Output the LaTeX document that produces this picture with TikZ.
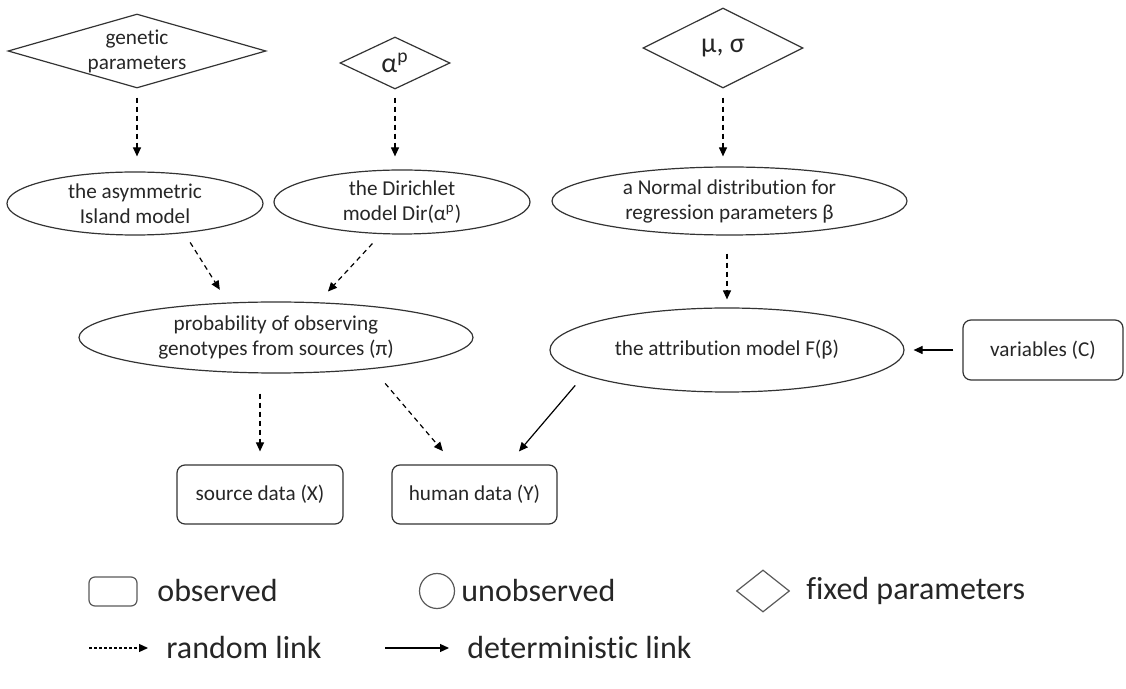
\documentclass[tikz,border=0pt]{standalone}
\usepackage{fontspec}
\setmainfont{Carlito}[Ligatures=NoCommon]
\usetikzlibrary{arrows.meta}
\usetikzlibrary{shapes.geometric}

\begin{document}
\begin{tikzpicture}[
      x=0.5pt, y=-0.5pt,
      every node/.style={text=black!85, align=center, font=\fontsize{10.6}{12.5}\selectfont},
      fixed/.style={diamond, draw=black!80, line width=0.6pt, inner sep=0pt},
      hidden/.style={ellipse, draw=black!80, line width=0.6pt, inner sep=0pt},
      obs/.style={rectangle, rounded corners=4pt, draw=black!80, line width=0.6pt, inner sep=0pt},
      big/.style={font=\fontsize{14}{16}\selectfont},
      rand/.style={line width=0.6pt, ->, >={Triangle[length=4.5pt,width=4pt]}, dash pattern=on 2.5pt off 2pt},
      det/.style={line width=0.6pt, ->, >={Triangle[length=4.5pt,width=4pt]}},
      legend/.style={anchor=west, inner sep=0pt, font=\fontsize{16}{19}\selectfont},
    ]
    \useasboundingbox (0,0) rectangle (1126,689);
    % Draw the fixed parameters.
    \node[fixed, shape aspect=3.5, minimum width=129pt, minimum height=37pt] (gen) at (137,51) {genetic\\parameters};
    \node[fixed, big, shape aspect=2.1, minimum width=55pt, minimum height=26pt] (alpha) at (395,63) {α\textsuperscript{p}};
    \node[fixed, big, shape aspect=2, minimum width=80pt, minimum height=40pt] (musig) at (723,48) {μ, σ};

    % Draw the unobserved nodes.
    \node[hidden, minimum width=128pt, minimum height=31.5pt] (island) at (135,203.5) {the asymmetric\\Island model};
    \node[hidden, minimum width=128pt, minimum height=32pt] (dirich) at (402,202) {the Dirichlet\\model Dir(α\textsuperscript{p})};
    \node[hidden, minimum width=177.5pt, minimum height=34pt] (normal) at (729.5,201) {a Normal distribution for\\regression parameters β};
    \node[hidden, minimum width=197pt, minimum height=35.5pt] (prob) at (276,337.5) {probability of observing\\genotypes from sources (π)};
    \node[hidden, minimum width=177pt, minimum height=42pt] (attrib) at (727,350) {the attribution model F(β)};

    % Draw the observed nodes.
    \node[obs, minimum width=80pt, minimum height=30pt] (vars) at (1043,350) {variables (C)};
    \node[obs, minimum width=83pt, minimum height=29.5pt] (source) at (260,494.5) {source data (X)};
    \node[obs, minimum width=82.5pt, minimum height=29.5pt] (human) at (474.5,494.5) {human data (Y)};

    % Draw the random links.
    \draw[rand, shorten <=4.5pt, shorten >=7.5pt] (gen.south) -- (gen.south |- island.north);
    \draw[rand, shorten <=4pt, shorten >=6.5pt] (alpha.south) -- (alpha.south |- dirich.north);
    \draw[rand, shorten <=4.5pt, shorten >=5pt] (musig.south) -- (musig.south |- normal.north);
    \draw[rand, shorten <=5.5pt, shorten >=7.5pt] (island.-31) -- (prob.144);
    \draw[rand, shorten <=6.4pt, shorten >=7.3pt] (dirich.237) -- (prob.40);
    \draw[rand, shorten <=9pt, shorten >=4pt] (attrib.north |- normal.south) -- (attrib.north);
    \draw[rand, shorten <=10pt, shorten >=6.5pt] (source.north |- prob.south) -- (source.north);
    \draw[rand, shorten <=9.5pt, shorten >=8.7pt] (prob.-18) -- (human.124);

    % Draw the deterministic links.
    \draw[det, shorten <=6.7pt, shorten >=8.5pt] (attrib.190) -- (human.42);
    \draw[det, shorten <=4.5pt, shorten >=4.5pt] (vars) -- (attrib);

    % Legend.
    \node[obs, draw=black!65, rounded corners=3pt, minimum width=24pt, minimum height=14.5pt] (key_obs) at (113,591.5) {};
    \node[legend] (key_obs_t) at (157,591) {observed};
    \node[hidden, draw=black!65, minimum width=17.5pt, minimum height=17.5pt] (key_hid) at (437,591) {};
    \node[legend] (key_hid_t) at (461,591) {unobserved};
    \node[fixed, draw=black!65, minimum width=26.5pt, minimum height=21pt] (key_fix) at (763,591) {};
    \node[legend] (key_fix_t) at (806,591) {fixed parameters};
    \coordinate (key_rand_a) at (89,648);
    \coordinate (key_rand_b) at (148,648);
    \draw[rand, dash pattern=on 1.5pt off 1pt] (key_rand_a) -- (key_rand_b);
    \node[legend] (key_rand_t) at (166,648) {random link};
    \coordinate (key_det_a) at (385,648);
    \coordinate (key_det_b) at (449,648);
    \draw[det] (key_det_a) -- (key_det_b);
    \node[legend] (key_det_t) at (467,648) {deterministic link};
\end{tikzpicture}
\end{document}
